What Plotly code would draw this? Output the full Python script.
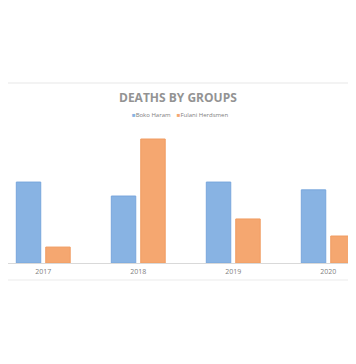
import plotly.graph_objects as go

years = ["2017", "2018", "2019", "2020"]
boko_haram = [2490, 2060, 2490, 2250]
fulani_herdsmen = [490, 3815, 1355, 830]

blue = "#88b3e3"
orange = "#f5a770"

fig = go.Figure()
fig.add_trace(go.Bar(x=years, y=boko_haram, name="Boko Haram",
                     marker=dict(color=blue, line=dict(color="#78a6dc", width=1))))
fig.add_trace(go.Bar(x=years, y=fulani_herdsmen, name="Fulani Herdsmen",
                     marker=dict(color=orange, line=dict(color="#f09c62", width=1))))

# page body has an 8px margin; figure coords = screen coords - 8
OFF = 8
W, H = 348, 330
top, bottom = 130 - OFF, 263 - OFF
span = bottom - top


def py(screen_y):
    return (bottom - (screen_y - OFF)) / span


def px(screen_x):
    return (screen_x - OFF) / W


fig.update_layout(
    width=W, height=H,
    margin=dict(l=0, r=0, t=top, b=H - bottom, pad=0),
    paper_bgcolor="white", plot_bgcolor="white",
    showlegend=False,
    barmode="group", bargap=0.38, bargroupgap=0.17,
    font=dict(family="Open Sans, Liberation Sans, sans-serif", color="#7f7f7f"),
    xaxis=dict(range=[-0.371, 3.292], showgrid=False, zeroline=False,
               showline=True, linecolor="#d9d9d9", linewidth=1,
               ticks="", tickfont=dict(size=7, color="#7f7f7f"), ticklabelstandoff=2),
    yaxis=dict(range=[0, 4092], showticklabels=False, zeroline=False,
               showgrid=True, gridcolor="rgba(255,255,255,0.55)", gridwidth=1,
               tick0=185, dtick=1000, layer="above traces"),
    annotations=[
        dict(text="<b>DEATHS BY GROUPS</b>", xref="paper", yref="paper",
             x=px(178), y=py(97), showarrow=False,
             xanchor="center", yanchor="middle",
             font=dict(size=12, color="#939393", family="Open Sans, sans-serif")),
        dict(text=f"<span style='color:{blue}'>■</span>Boko Haram    "
                  f"<span style='color:{orange}'>■</span>Fulani Herdsmen",
             xref="paper", yref="paper", x=px(180), y=py(115),
             showarrow=False, xanchor="center", yanchor="middle",
             font=dict(size=6, color="#808080")),
    ],
    shapes=[
        dict(type="line", xref="paper", yref="paper", x0=0, x1=1,
             y0=py(83), y1=py(83), line=dict(color="#efefef", width=1.5)),
        dict(type="line", xref="paper", yref="paper", x0=0, x1=1,
             y0=py(280), y1=py(280), line=dict(color="#f2f2f2", width=1.5)),
    ],
)

fig.write_html("out.html")
